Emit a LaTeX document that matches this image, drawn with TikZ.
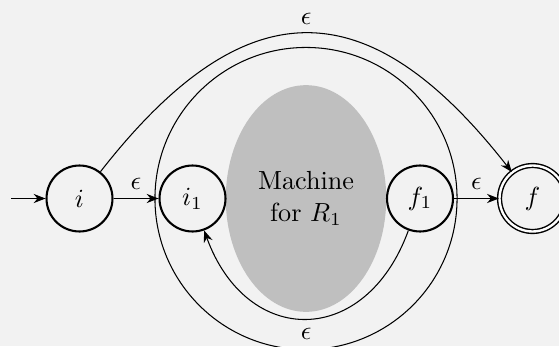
\documentclass[tikz,border=0pt]{standalone}
\usetikzlibrary{arrows.meta,shapes.geometric}
\tikzset{
  state/.style={circle, draw, thick, minimum size=25.2pt, inner sep=0pt},
  accept/.style={state, double, double distance=0.9pt, line width=0.55pt},
  eps/.style={-{Stealth[length=4.5pt,width=3.5pt]}},
}
\begin{document}
\begin{tikzpicture}[x=0.382pt, y=-0.382pt]
  \useasboundingbox (0,0) rectangle (559,346);
  \clip (0,0) rectangle (559,346);
  \fill[black!5] (0,0) rectangle (559,346);
  % the machine and its frame
  \node[ellipse, fill=black!25, minimum width=57.3pt, minimum height=86.6pt, align=center] (m) at (306,198.5) {Machine\\for $R_1$};
  \draw (m.center) circle (57.7pt);
  % states
  \node[state] (i) at (79.5,198.5) {$i$};
  \node[state] (i1) at (192.5,198.5) {$i_1$};
  \node[state] (f1) at (420,198.5) {$f_1$};
  \node[accept] (f) at (532.5,198.5) {$f$};
  \coordinate (start) at (11,198.5);
  % transitions
  \draw[eps] (start) -- (i);
  \draw[eps] (i) -- node[above] {$\epsilon$} (i1);
  \draw[eps] (f1) -- node[above] {$\epsilon$} (f);
  \draw[eps] (i) to[out=52, in=128, looseness=1.46] node[above] {$\epsilon$} (f);
  \draw[eps] (f1) to[out=-110, in=-70, looseness=1.57] node[below] {$\epsilon$} (i1);
\end{tikzpicture}
\end{document}
